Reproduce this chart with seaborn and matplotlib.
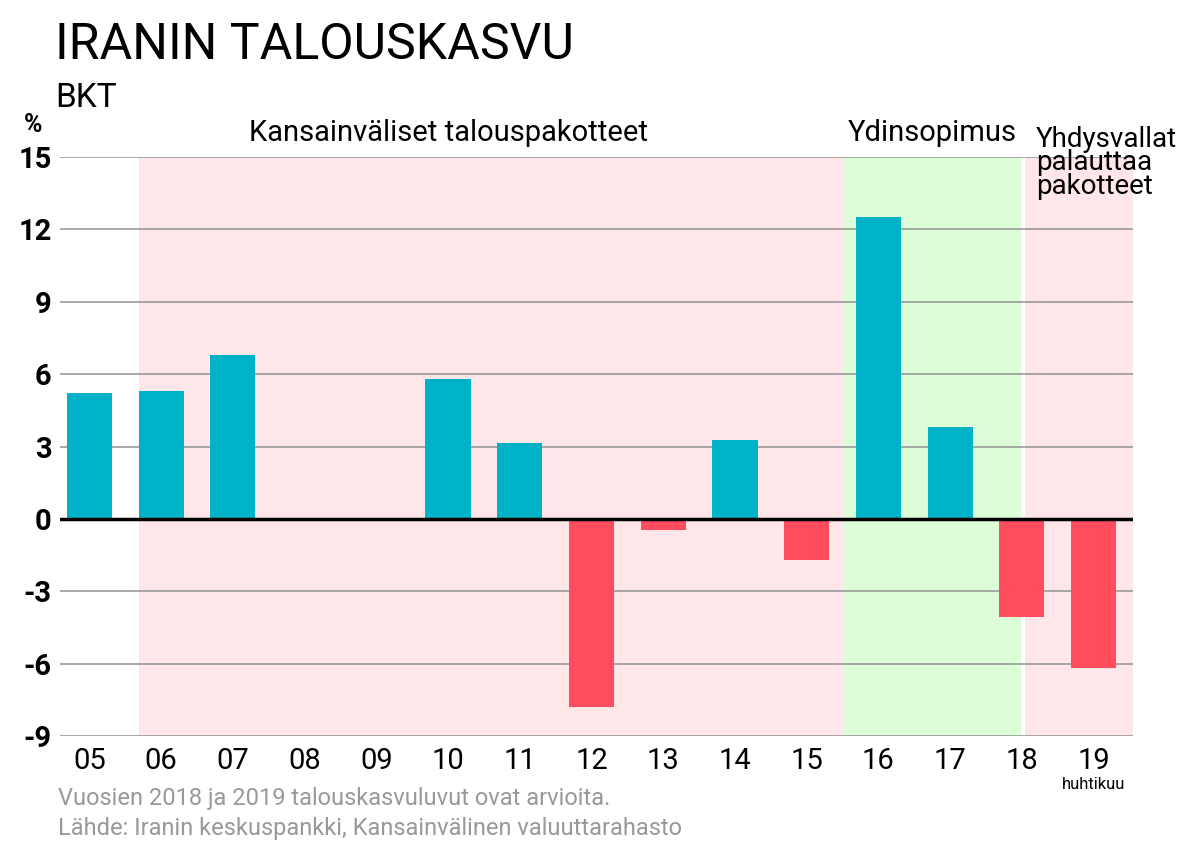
import numpy as np
import pandas as pd
import matplotlib.pyplot as plt
import seaborn as sns

# Data ...
years = ["05", "06", "07", "08", "09", "10", "11", "12", "13", "14", "15", "16", "17", "18", "19"]
growth = [5.2, 5.3, 6.8, 0.0, 0.0, 5.8, 3.15, -7.8, -0.45, 3.25, -1.7, 12.5, 3.8, -4.05, -6.2]
yticks = [-9, -6, -3, 0, 3, 6, 9, 12, 15]

sns.set_style("white")
plt.rcParams["font.family"] = "Roboto"
plt.rcParams["text.color"] = "black"
plt.rcParams["xtick.color"] = "black"
plt.rcParams["ytick.color"] = "black"

fig = plt.figure(figsize=(11.98, 8.47), dpi=100)
ax = fig.add_axes([60/1198, 111/847, 1073/1198, 579/847])

df = pd.DataFrame({"year": years, "growth": growth})
colors = ["#00b2c8" if v >= 0 else "#ff4d5e" for v in growth]
ax.axvspan(0.685, 10.51, color="#ffe6e8", zorder=0, lw=0)
ax.axvspan(10.51, 12.99, color="#ddfdd8", zorder=0, lw=0)
ax.axvspan(13.05, 14.6, color="#ffe6e8", zorder=0, lw=0)
for t in yticks:
    if t != 0:
        ax.axhline(t, color="#999999", lw=1.2, zorder=1)
sns.barplot(data=df, x="year", y="growth", hue="year", palette=colors, legend=False,
            width=0.63, saturation=1, linewidth=0, ax=ax, zorder=2)
ax.axhline(0, color="black", lw=2.5, zorder=3)

ax.set_xlim(-0.41, 14.55)
ax.set_ylim(-9, 15)
ax.set_yticks(yticks)
ax.set_yticklabels([str(t) for t in yticks], fontsize=21, fontweight="bold")
ax.tick_params(axis="x", labelsize=21, length=0, pad=8)
ax.tick_params(axis="y", length=0, pad=6)
ax.set_xlabel("")
ax.set_ylabel("")
for s in ax.spines.values():
    s.set_visible(False)

ax.text(5.0, 15.4, "Kansainväliset talouspakotteet", fontsize=21, ha="center", va="bottom")
ax.text(11.75, 15.4, "Ydinsopimus", fontsize=21, ha="center", va="bottom")
ax.text(13.2, 16.3, "Yhdysvallat\npalauttaa\npakotteet", fontsize=20, ha="left", va="top",
        linespacing=0.85, clip_on=False)
ax.text(14, -10.7, "huhtikuu", fontsize=12, ha="center", va="top")

fig.text(55/1198, 1 - 45/847, "IRANIN TALOUSKASVU", fontsize=36, va="center")
fig.text(55/1198, 1 - 98/847, "BKT", fontsize=24, va="center")
fig.text(33/1198, 1 - 125/847, "%", fontsize=18, fontweight="bold", ha="center", va="center")
fig.text(58/1198, 1 - 798/847, "Vuosien 2018 ja 2019 talouskasvuluvut ovat arvioita.",
         fontsize=17, color="#999999", va="center")
fig.text(58/1198, 1 - 828/847, "Lähde: Iranin keskuspankki, Kansainvälinen valuuttarahasto",
         fontsize=17, color="#999999", va="center")

fig.savefig("out.png", dpi=100)
